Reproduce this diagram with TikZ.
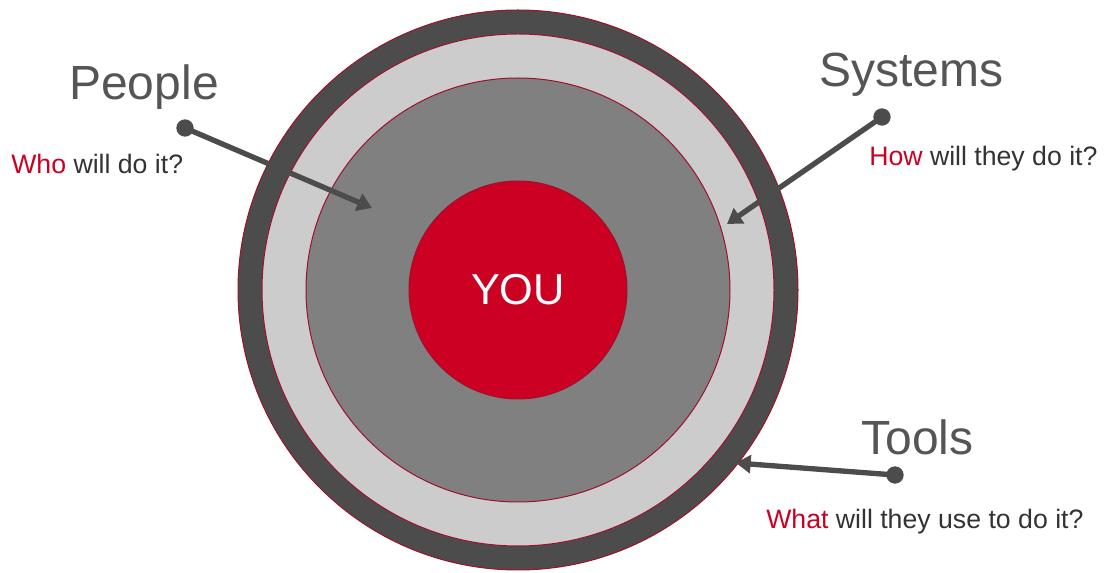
\documentclass[tikz,border=0pt]{standalone}
\usepackage{fontspec}
\setmainfont{Liberation Sans}
\usepackage{xcolor}
\usetikzlibrary{arrows.meta,positioning}
\definecolor{youred}{HTML}{CC0022}
\definecolor{rimred}{HTML}{A0102A}
\definecolor{titlegrey}{HTML}{555555}
\definecolor{textgrey}{HTML}{333333}

\begin{document}
\begin{tikzpicture}[
    x=0.75pt,y=-0.75pt,
    ring/.style={circle,draw=rimred,line width=0.75pt,inner sep=0pt,outer sep=0pt},
    title/.style={anchor=base west,inner sep=0pt,text=titlegrey,font=\fontsize{36}{42}\selectfont},
    question/.style={anchor=base west,inner sep=0pt,text=textgrey,font=\fontsize{20}{24}\selectfont},
    dot/.style={circle,fill=black!70,inner sep=0pt,minimum size=13pt},
    arrow/.style={-{Triangle[length=11pt,width=13.5pt]},line width=4pt,draw=black!70}
]
\useasboundingbox (0,0) rectangle (1108,573);
% target rings
\node[ring,fill=black!70,minimum size=420pt] (outer) at (518,290) {};
\node[ring,fill=black!20,minimum size=384pt] (light) at (518,290) {};
\node[ring,fill=black!50,minimum size=318pt] (mid) at (518,290) {};
\node[ring,fill=youred,minimum size=163.5pt,text=white,
    font=\fontsize{32.5}{38}\selectfont] (you) at (518,290) {YOU};
% labels
\node[title] (people) at (69,100) {People};
\node[question] (who) at (11,174) {\textcolor{youred}{Who} will do it?};
\node[title] (systems) at (819,87) {Systems};
\node[question] (how) at (869,166) {\textcolor{youred}{How} will they do it?};
\node[title] (tools) at (861,455) {Tools};
\node[question] (what) at (766,529) {\textcolor{youred}{What} will they use to do it?};
% pointers
\node[dot] (pdot) at (185,128) {};
\node[dot] (sdot) at (882,117) {};
\node[dot] (tdot) at (895,475) {};
\coordinate (ptip) at (372,208);
\coordinate (stip) at (727,224);
\coordinate (ttip) at (736,463);
\draw[arrow] (pdot.center) -- (ptip);
\draw[arrow] (sdot.center) -- (stip);
\draw[arrow] (tdot.center) -- (ttip);
\end{tikzpicture}
\end{document}
